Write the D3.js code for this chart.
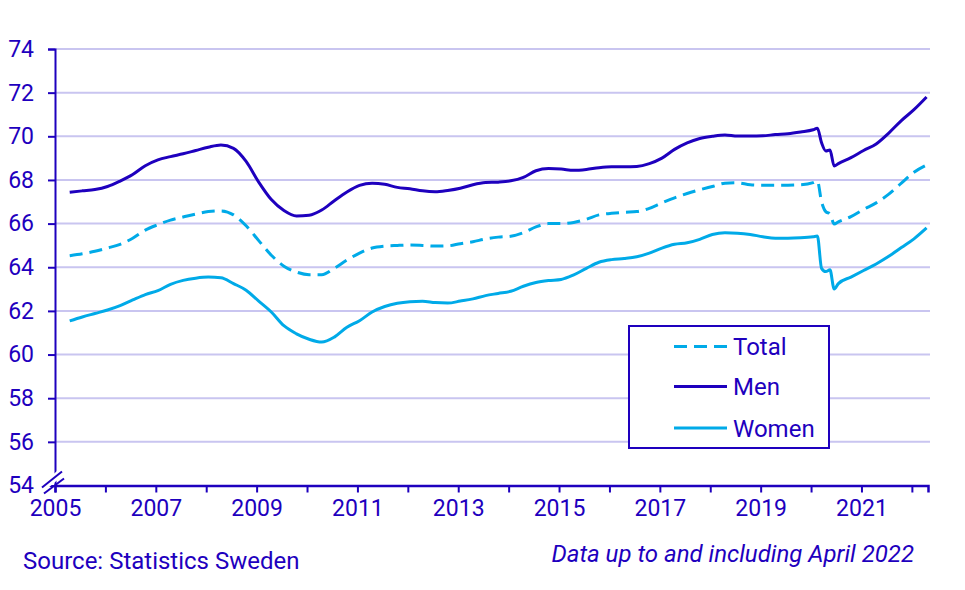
<!DOCTYPE html>
<html>
<head>
<meta charset="utf-8">
<script src="https://cdn.jsdelivr.net/npm/d3@7"></script>
<style>
  html, body { margin: 0; padding: 0; background: #fff; }
  svg { display: block; font-family: Roboto, "Noto Sans", sans-serif; }
</style>
</head>
<body>
<svg id="chart" width="965" height="590"></svg>
<script>
// ---- Data ----
const months = [
  "2005-04","2005-07","2005-10",
  "2006-01","2006-04","2006-07","2006-10",
  "2007-01","2007-04","2007-07","2007-10",
  "2008-01","2008-04","2008-07","2008-10",
  "2009-01","2009-04","2009-07","2009-10",
  "2010-01","2010-04","2010-07","2010-10",
  "2011-01","2011-04","2011-07","2011-10",
  "2012-01","2012-04","2012-07","2012-10",
  "2013-01","2013-04","2013-07","2013-10",
  "2014-01","2014-04","2014-07","2014-10",
  "2015-01","2015-04","2015-07","2015-10",
  "2016-01","2016-04","2016-07","2016-10",
  "2017-01","2017-04","2017-07","2017-10",
  "2018-01","2018-04","2018-07","2018-10",
  "2019-01","2019-04","2019-07","2019-10",
  "2020-01","2020-02","2020-03","2020-04","2020-05","2020-06","2020-07","2020-10",
  "2021-01","2021-04","2021-07","2021-10",
  "2022-01","2022-04"
];

const men = [
  67.44,67.50,67.56,
  67.70,67.95,68.25,68.65,
  68.92,69.07,69.20,69.35,
  69.50,69.60,69.45,68.85,
  67.90,67.10,66.60,66.35,
  66.38,66.62,67.05,67.45,
  67.75,67.85,67.80,67.66,
  67.60,67.50,67.46,67.52,
  67.62,67.78,67.88,67.90,
  67.96,68.12,68.42,68.52,
  68.50,68.44,68.48,68.56,
  68.60,68.60,68.62,68.75,
  69.00,69.40,69.70,69.90,
  70.00,70.06,70.01,70.01,
  70.02,70.08,70.12,70.20,
  70.30,70.37,69.70,69.33,69.37,68.64,68.75,69.02,
  69.35,69.65,70.15,70.72,
  71.22,71.80
];

const total = [
  64.53,64.62,64.73,
  64.88,65.05,65.33,65.70,
  65.95,66.16,66.30,66.44,
  66.55,66.58,66.40,65.90,
  65.22,64.55,64.05,63.78,
  63.66,63.66,63.95,64.33,
  64.65,64.88,64.97,65.00,
  65.02,65.00,64.97,64.98,
  65.08,65.17,65.30,65.38,
  65.42,65.58,65.85,66.00,
  66.00,66.05,66.20,66.40,
  66.47,66.52,66.55,66.70,
  66.95,67.18,67.38,67.55,
  67.70,67.85,67.87,67.78,
  67.76,67.76,67.76,67.78,
  67.88,67.95,67.00,66.55,66.45,65.98,66.08,66.32,
  66.65,66.95,67.35,67.85,
  68.35,68.68
];

const women = [
  61.54,61.72,61.88,
  62.04,62.24,62.50,62.75,
  62.93,63.22,63.40,63.50,
  63.55,63.52,63.25,62.95,
  62.45,61.95,61.32,60.95,
  60.70,60.57,60.80,61.25,
  61.55,61.95,62.20,62.35,
  62.42,62.44,62.38,62.36,
  62.45,62.55,62.70,62.80,
  62.90,63.13,63.30,63.39,
  63.44,63.65,63.95,64.23,
  64.35,64.40,64.48,64.65,
  64.88,65.05,65.12,65.28,
  65.50,65.58,65.56,65.50,
  65.40,65.33,65.33,65.35,
  65.40,65.43,63.95,63.80,63.88,63.00,63.25,63.55,
  63.85,64.15,64.50,64.90,
  65.30,65.80
];

const yTicks = [54,56,58,60,62,64,66,68,70,72,74];
const xTickYears = [2005,2006,2007,2008,2009,2010,2011,2012,2013,2014,2015,2016,2017,2018,2019,2020,2021,2022];
const xLabelYears = [2005,2007,2009,2011,2013,2015,2017,2019,2021];
const seriesNames = ["Total","Men","Women"];
const sourceText = "Source: Statistics Sweden";
const noteText = "Data up to and including April 2022";

// ---- Styles ----
const DARK = "#1e00be";
const LIGHT = "#00aae8";
const GRID = "#c9c5f0";

const svg = d3.select("#chart");

const x = d3.scaleLinear().domain([2005, 2022.32]).range([55, 928]);
const y = d3.scaleLinear().domain([54, 74]).range([485.5, 49]);

const toT = m => { const [yy, mm] = m.split("-").map(Number); return yy + (mm - 0.5) / 12; };

// gridlines
svg.append("g").selectAll("line")
  .data(yTicks.filter(v => v > 54))
  .join("line")
  .attr("x1", x.range()[0]).attr("x2", x.range()[1] + 2)
  .attr("y1", d => y(d)).attr("y2", d => y(d))
  .attr("stroke", GRID).attr("stroke-width", 2);

// y axis
const yAxis = d3.axisLeft(y).tickValues(yTicks).tickSize(7).tickPadding(14).tickFormat(d3.format("d"));
const gy = svg.append("g").attr("transform", `translate(${x.range()[0]},0)`).call(yAxis);
gy.select(".domain").attr("stroke", DARK).attr("stroke-width", 2);
gy.selectAll(".tick line").attr("stroke", DARK).attr("stroke-width", 2);
gy.selectAll(".tick text").attr("fill", DARK).attr("font-size", 23).attr("font-family", "Roboto");

// x axis
const xAxis = d3.axisBottom(x).tickValues(xTickYears).tickSize(7).tickPadding(7)
  .tickFormat(d => xLabelYears.includes(d) ? String(d) : "");
const gx = svg.append("g").attr("transform", `translate(0,${y(54)})`).call(xAxis);
gx.select(".domain").attr("stroke", DARK).attr("stroke-width", 2.5);
gx.selectAll(".tick line").attr("stroke", DARK).attr("stroke-width", 2);
gx.selectAll(".tick text").attr("fill", DARK).attr("font-size", 23).attr("font-family", "Roboto");

// axis break marks
const brk = svg.append("g").attr("stroke", DARK).attr("stroke-width", 2);
brk.append("line").attr("x1", x.range()[0] - 13).attr("y1", y(54) + 3).attr("x2", x.range()[0] + 7).attr("y2", y(54) - 14)
  .attr("stroke", "#fff").attr("stroke-width", 7);
brk.append("line").attr("x1", x.range()[0] - 13).attr("y1", y(54) + 2).attr("x2", x.range()[0] + 7).attr("y2", y(54) - 14);
brk.append("line").attr("x1", x.range()[0] - 11).attr("y1", y(54) + 8).attr("x2", x.range()[0] + 9).attr("y2", y(54) - 7);

// lines
const series = [
  { name: "Total", values: total, color: LIGHT, dash: "13,7" },
  { name: "Men", values: men, color: DARK, dash: null },
  { name: "Women", values: women, color: LIGHT, dash: null }
];
const line = d3.line().x(d => x(d.t)).y(d => y(d.v)).curve(d3.curveMonotoneX);
series.forEach(s => {
  const pts = months.map((m, i) => ({ t: toT(m), v: s.values[i] }));
  svg.append("path").datum(pts)
    .attr("d", line)
    .attr("fill", "none")
    .attr("stroke", s.color)
    .attr("stroke-width", 3)
    .attr("stroke-linejoin", "round")
    .attr("stroke-dasharray", s.dash);
});

// legend
const lg = svg.append("g");
lg.append("rect").attr("x", 629).attr("y", 326).attr("width", 200).attr("height", 122)
  .attr("fill", "#fff").attr("stroke", DARK).attr("stroke-width", 2);
const legendY = [346.5, 386.5, 428];
series.forEach((s, i) => {
  lg.append("line").attr("x1", 674).attr("x2", 727).attr("y1", legendY[i]).attr("y2", legendY[i])
    .attr("stroke", s.color).attr("stroke-width", 3).attr("stroke-dasharray", s.dash);
  lg.append("text").attr("x", 733).attr("y", legendY[i]).attr("dy", "0.36em")
    .attr("fill", DARK).attr("font-size", 24).text(seriesNames[i]);
});

// footer texts
svg.append("text").attr("x", 23).attr("y", 569).attr("fill", DARK).attr("font-size", 24).text(sourceText);
svg.append("text").attr("x", 914).attr("y", 562).attr("text-anchor", "end").attr("fill", DARK)
  .attr("font-size", 24).attr("font-style", "italic").text(noteText);
</script>
</body>
</html>
